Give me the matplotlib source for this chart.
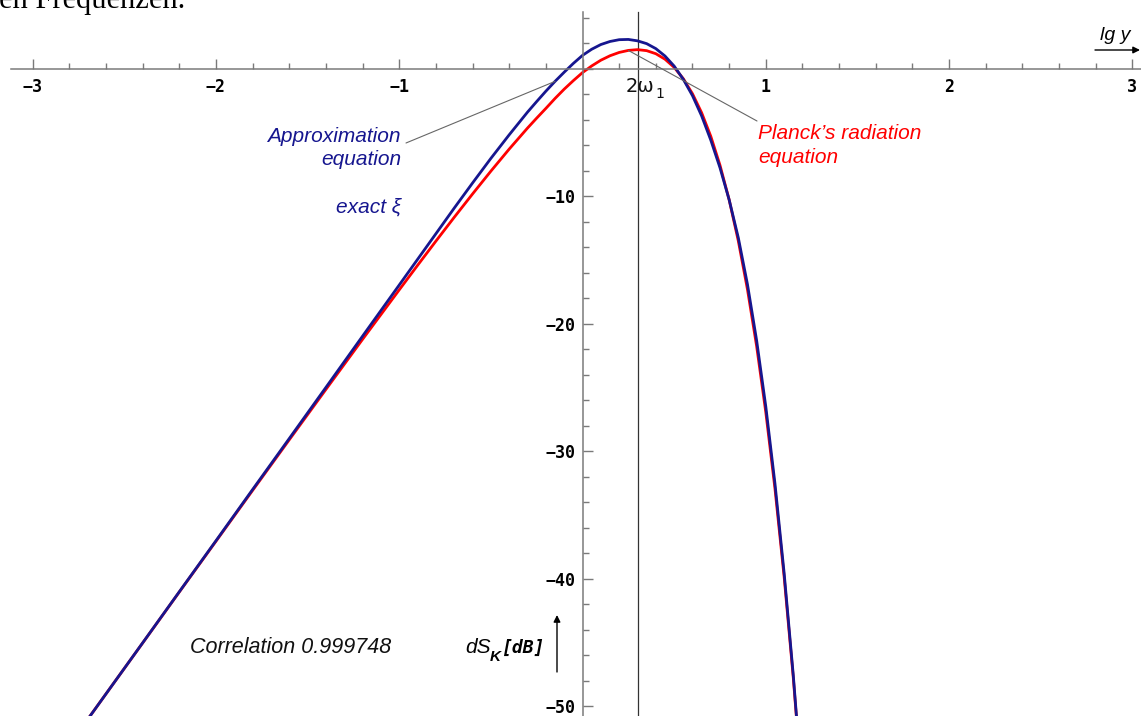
import matplotlib
matplotlib.use("Agg")
import matplotlib.pyplot as plt
from matplotlib.ticker import FixedLocator

# lg y against dS_K in dB
lg_y = [-2.8, -2.6, -2.4, -2.2, -2.0, -1.8, -1.6, -1.4, -1.2, -1.0, -0.9, -0.8,
        -0.7, -0.6, -0.5, -0.4, -0.3, -0.25, -0.2, -0.15, -0.1, -0.05, 0.0, 0.05,
        0.1, 0.15, 0.2, 0.25, 0.3, 0.35, 0.4, 0.45, 0.5, 0.55, 0.6, 0.65, 0.7,
        0.75, 0.8, 0.85, 0.9, 0.95, 1.0, 1.05, 1.1, 1.15, 1.2]

planck_db = [-53.05, -49.05, -45.06, -41.06, -37.08, -33.09, -29.12, -25.17, -21.24,
             -17.36, -15.44, -13.54, -11.67, -9.84, -8.05, -6.32, -4.67, -3.89, -3.13,
             -2.35, -1.62, -0.95, -0.32, 0.20, 0.65, 1.00, 1.26, 1.42, 1.48, 1.40, 1.16,
             0.73, 0.09, -0.80, -1.98, -3.47, -5.32, -7.58, -10.29, -13.52, -17.33,
             -21.78, -26.96, -32.95, -39.86, -47.79, -56.88]

approx_db = [-53.05, -49.05, -45.05, -41.04, -37.04, -33.02, -29.02, -25.01, -20.99,
             -16.98, -14.97, -12.96, -10.95, -8.98, -7.05, -5.20, -3.42, -2.59, -1.78,
             -1.01, -0.29, 0.40, 1.03, 1.51, 1.88, 2.12, 2.26, 2.28, 2.17, 1.95, 1.56,
             0.98, 0.19, -0.85, -2.13, -3.72, -5.62, -7.78, -10.29, -13.27, -16.93,
             -21.33, -26.51, -32.55, -39.56, -47.59, -56.78]

xticks = [-3, -2, -1, 0, 1, 2, 3]
xtick_labels = ["\u22123", "\u22122", "\u22121", "", "1", "2", "3"]
yticks = [-50, -40, -30, -20, -10, 0]
ytick_labels = ["\u221250", "\u221240", "\u221230", "\u221220", "\u221210", ""]
lg_2w1 = 0.301  # lg 2

W, H = 1141, 716
BLUE = "#16168f"
RED = "#ff0000"
GREY = "#7a7a7a"


def px(x, y):
    # pixel position -> figure fraction
    return x / W, 1 - y / H


fig = plt.figure(figsize=(W / 100, H / 100), dpi=100)
ax = fig.add_axes([0, 0, 1, 1])
ax.set_xlim(-3.178, 3.047)
ax.set_ylim(-50.78, 5.373)

for s in ["top", "right"]:
    ax.spines[s].set_visible(False)
ax.spines["left"].set_position(("data", 0))
ax.spines["bottom"].set_position(("data", 0))
ax.spines["bottom"].set_bounds(-3.12, 3.05)
ax.spines["left"].set_bounds(-50.78, 4.45)
for s in ["left", "bottom"]:
    ax.spines[s].set_color(GREY)
    ax.spines[s].set_linewidth(1.1)

ax.set_xticks(xticks)
ax.set_xticklabels(xtick_labels)
ax.set_yticks(yticks)
ax.set_yticklabels(ytick_labels)
ax.xaxis.set_minor_locator(FixedLocator([i * 0.2 for i in range(-15, 16)]))
ax.yaxis.set_minor_locator(FixedLocator(list(range(-50, 5, 2))))
ax.tick_params(which="major", direction="in", length=7.5, width=1, color=GREY, pad=5,
               labelsize=12)
ax.tick_params(axis="x", which="major", pad=7)
ax.tick_params(which="minor", direction="in", length=4.5, width=1, color=GREY)
for lab in ax.get_xticklabels() + ax.get_yticklabels():
    lab.set_fontfamily("DejaVu Sans Mono")
    lab.set_fontweight("bold")

# 2 omega_1 marker line
ax.plot([lg_2w1, lg_2w1], [-50.78, 4.45], color="#333333", lw=0.9)
fig.text(*px(626, 92), "2\u03c9", fontsize=14, family="DejaVu Sans", ha="left",
         va="baseline", color="#111111")
fig.text(*px(655, 98), "1", fontsize=10, family="DejaVu Sans", ha="left",
         va="baseline", color="#111111")

ax.plot(lg_y, planck_db, color=RED, lw=2)
ax.plot(lg_y, approx_db, color=BLUE, lw=2)

# leader lines
ax.annotate("", xy=(lg_y[19], approx_db[19]), xytext=px(406, 143), textcoords="figure fraction",
            arrowprops=dict(arrowstyle="-", color="#666666", lw=0.8, shrinkA=0, shrinkB=0))
ax.annotate("", xy=(lg_y[27], planck_db[27]), xytext=px(757, 121), textcoords="figure fraction",
            arrowprops=dict(arrowstyle="-", color="#666666", lw=0.8, shrinkA=0, shrinkB=0))

sans = "Liberation Sans"
fig.text(*px(401, 142), "Approximation", color=BLUE, fontsize=15, style="italic",
         family=sans, ha="right", va="baseline")
fig.text(*px(401, 165), "equation", color=BLUE, fontsize=15, style="italic",
         family=sans, ha="right", va="baseline")
fig.text(*px(401, 212), "exact \u03be", color=BLUE, fontsize=15, style="italic",
         family=sans, ha="right", va="baseline")
fig.text(*px(758, 139), "Planck\u2019s radiation", color=RED, fontsize=15,
         style="italic", family=sans, ha="left", va="baseline")
fig.text(*px(758, 163), "equation", color=RED, fontsize=15,
         style="italic", family=sans, ha="left", va="baseline")
fig.text(*px(190, 653), "Correlation 0.999748", color="#111111", fontsize=15.5,
         style="italic", family=sans, ha="left", va="baseline")

# axis titles
fig.text(*px(465, 653), "dS", fontsize=15, style="italic", family=sans, ha="left", va="baseline")
fig.text(*px(490, 661), "K", fontsize=11, style="italic", weight="bold", family=sans,
         ha="left", va="baseline")
fig.text(*px(501, 653), "[dB]", fontsize=13, style="italic", weight="bold",
         family="DejaVu Sans Mono", ha="left", va="baseline")
ax.annotate("", xy=px(557, 615), xytext=px(557, 672), xycoords="figure fraction",
            arrowprops=dict(arrowstyle="-|>", color="black", lw=1, mutation_scale=10,
                            shrinkA=0, shrinkB=0))
fig.text(*px(1100, 40), "lg y", fontsize=14, style="italic", family=sans, ha="left",
         va="baseline")
ax.annotate("", xy=px(1140, 50), xytext=px(1095, 50), xycoords="figure fraction",
            arrowprops=dict(arrowstyle="-|>", color="black", lw=1, mutation_scale=10,
                            shrinkA=0, shrinkB=0))

# clipped caption line from the page above
fig.text(*px(-1, 8), "en Frequenzen.", fontsize=22, family="Liberation Serif", ha="left",
         va="baseline")

fig.savefig("out.png", dpi=100)
